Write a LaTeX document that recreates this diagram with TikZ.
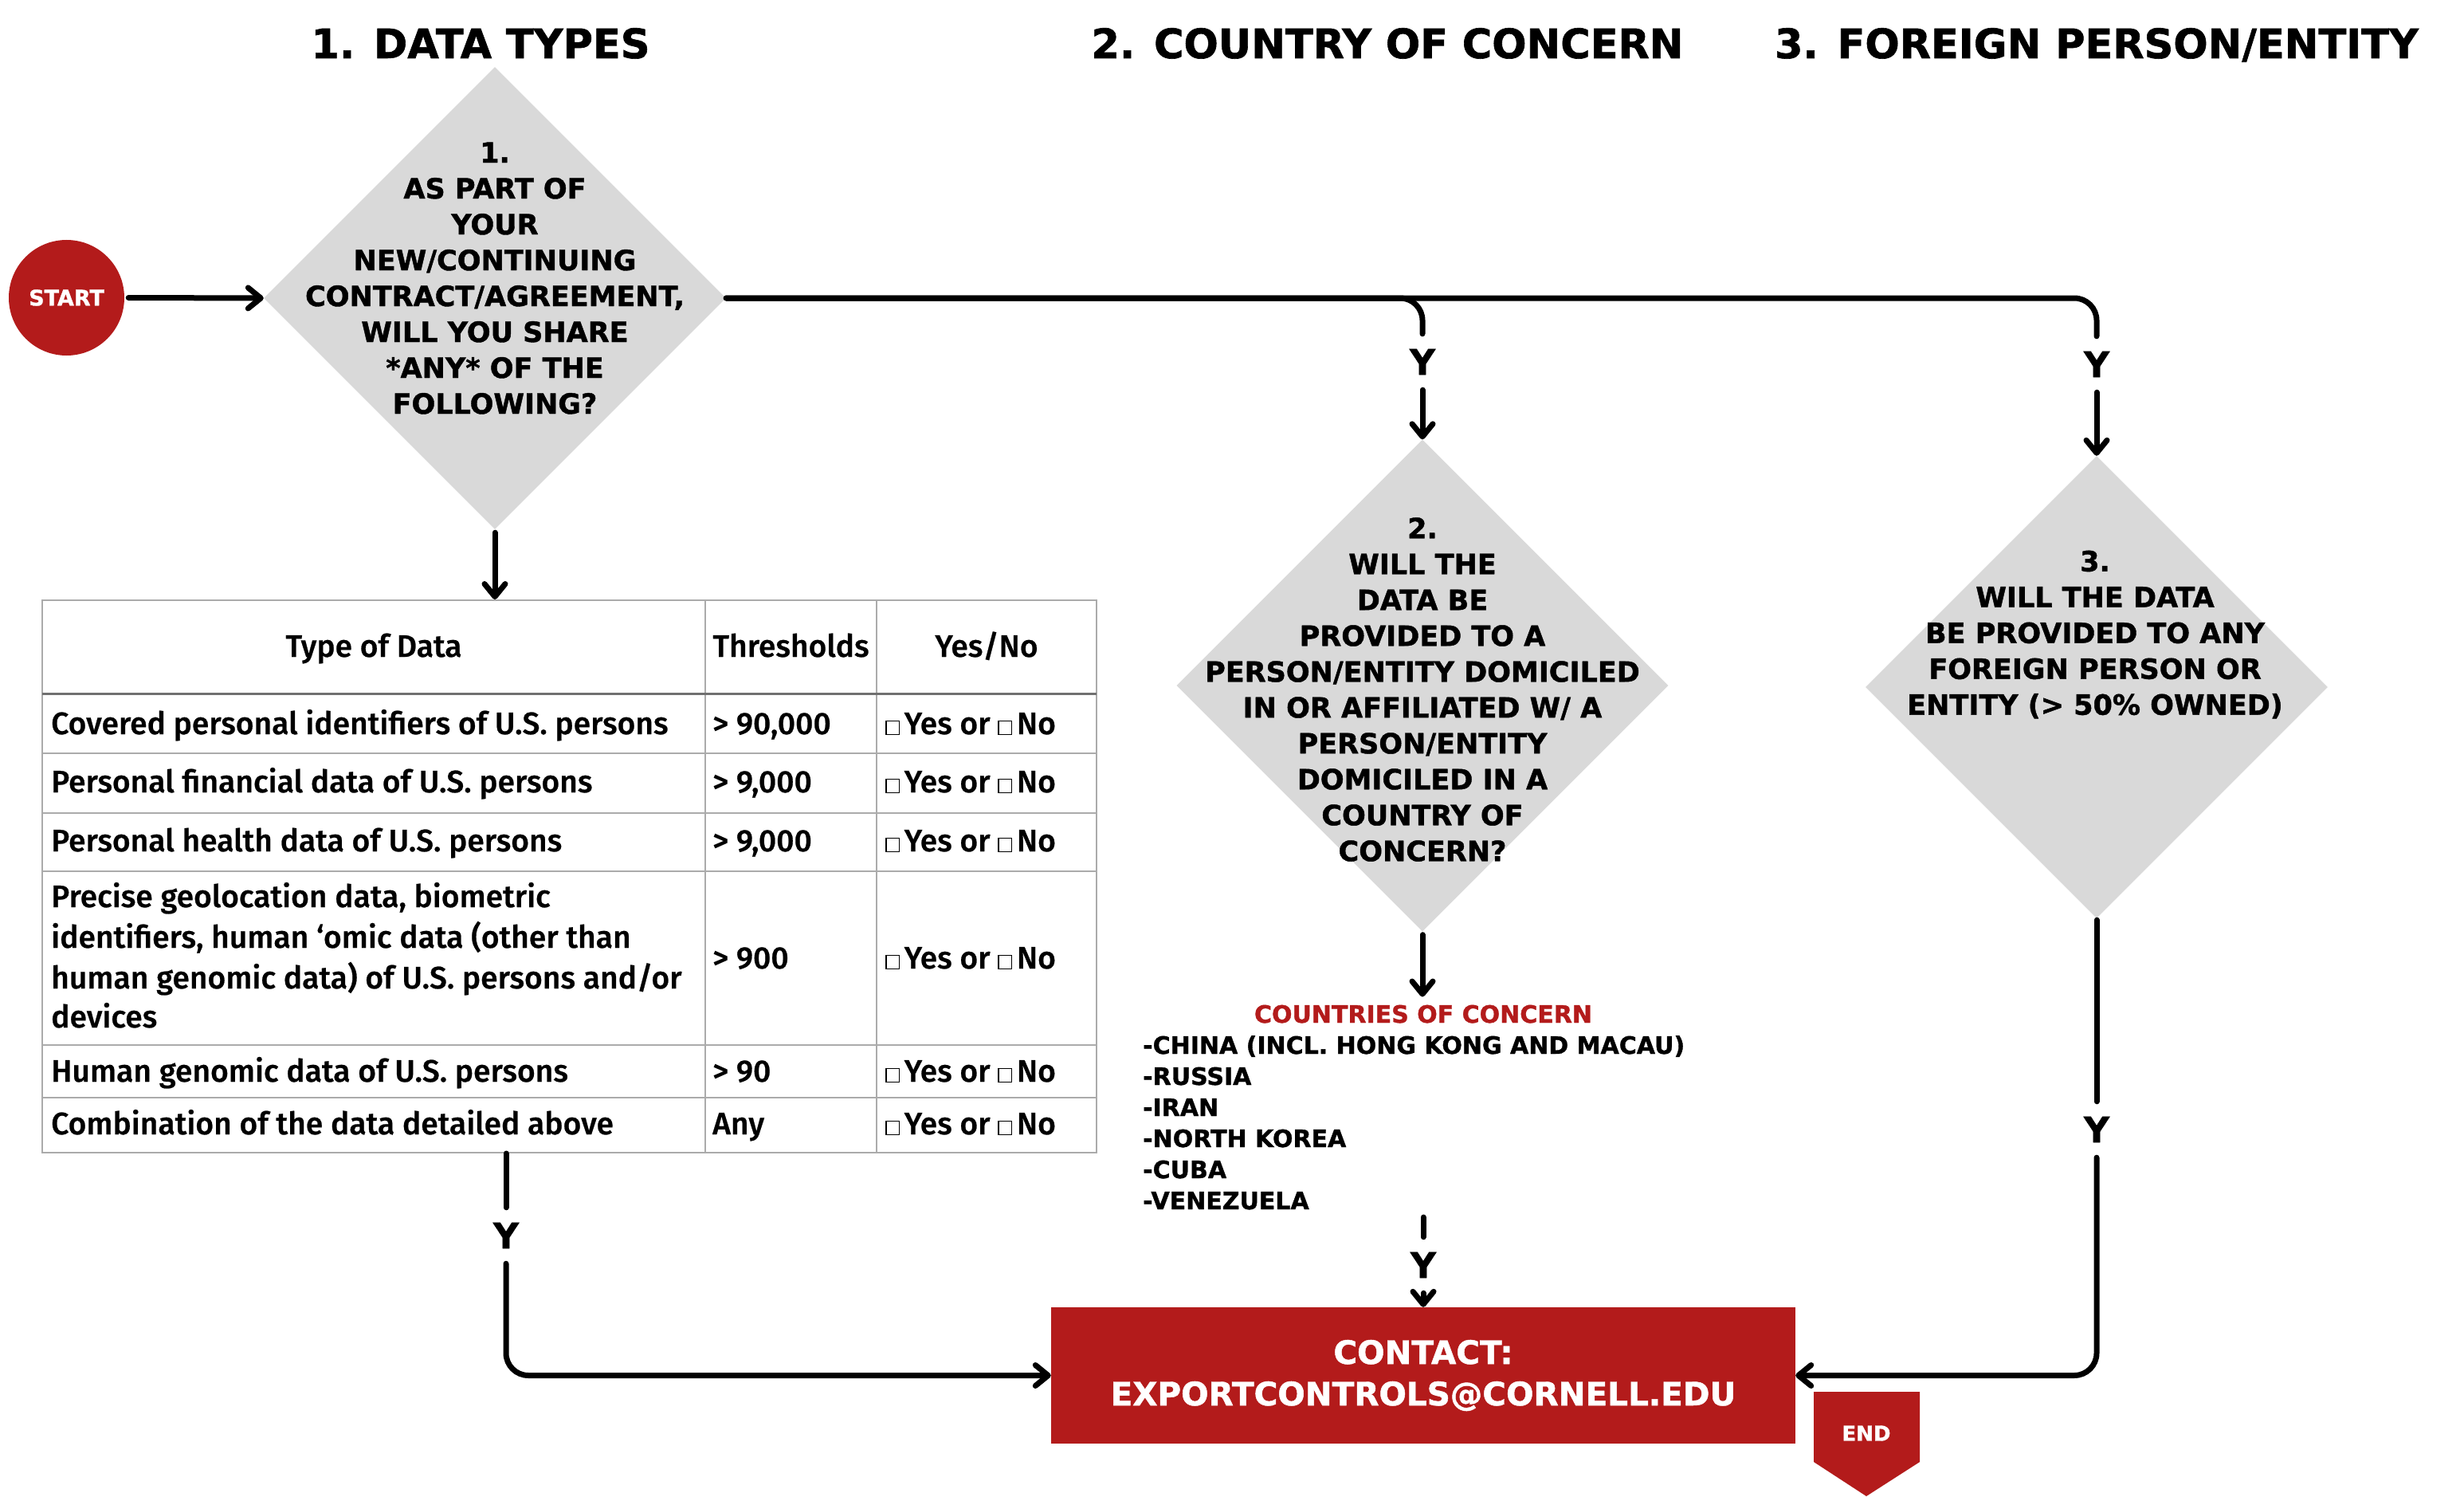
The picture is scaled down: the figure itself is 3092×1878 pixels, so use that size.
\documentclass[tikz,border=0pt]{standalone}
\usepackage{fontspec}
\usetikzlibrary{arrows.meta,shapes.geometric,calc}
\newfontfamily\djv{DejaVu Sans}[BoldFeatures={FakeBold=1.2}]
\newfontfamily\tabf{Fira Sans Medium}[FakeBold=0.6]
\definecolor{cred}{HTML}{B31B1B}
\definecolor{dgray}{HTML}{D9D9D9}
\definecolor{tgray}{HTML}{ABABAB}
\definecolor{hgray}{HTML}{707070}
\newcommand\fsz[2]{\fontsize{#1}{#2}\selectfont}
\newcommand\cbx{{\setlength{\fboxsep}{0pt}\setlength{\fboxrule}{1.3pt}\fbox{\rule{0pt}{16pt}\hspace{15pt}}}\hspace{6pt}}
\begin{document}
\begin{tikzpicture}[x=1pt,y=-1pt,
  conn/.style={line width=7pt, line cap=round, line join=round},
  arr/.style={conn, -{Straight Barb[length=16pt,width=26pt,round]}},
  ylab/.style={font=\djv\bfseries\fsz{44}{44}, inner sep=0pt, minimum height=70pt, minimum width=40pt},
  dia/.style={diamond, aspect=1, fill=dgray, inner sep=0pt},
  dtext/.style={font=\djv\bfseries\fsz{35}{45}, align=center, inner sep=0pt},
  title/.style={font=\djv\bfseries\fsz{51}{55}, anchor=base, inner sep=0pt},
  tabtxt/.style={font=\tabf\fsz{39}{50}, anchor=base west, inner sep=0pt},
  tabline/.style={draw=tgray, line width=2pt},
  cntry/.style={font=\djv\bfseries\fsz{30}{39}, anchor=base west, inner sep=0pt}]
\fill[white] (0,0) rectangle (3092,1878);
\useasboundingbox (0,0) rectangle (3092,1878);

% titles
\node[title] (t1) at (603,73) {1. DATA TYPES};
\node[title] (t2) at (1741,73) {2. COUNTRY OF CONCERN};
\node[title] (t3) at (2631,73) {3. FOREIGN PERSON/ENTITY};

% start
\node[circle, fill=cred, minimum size=145pt, inner sep=0pt, text=white,
      font=\djv\bfseries\fsz{27}{27}] (start) at (83.5,373.5) {START};

% diamonds
\node[dia, minimum width=580pt, minimum height=580pt] (d1) at (621,374) {};
\node[dtext] (d1t) at (621,349) {1.\\AS PART OF\\YOUR\\NEW/CONTINUING\\CONTRACT/AGREEMENT,\\WILL YOU SHARE\\*ANY* OF THE\\FOLLOWING?};

\node[dia, minimum width=617pt, minimum height=617pt] (d2) at (1785,860) {};
\node[dtext] (d2t) at (1785,865) {2.\\WILL THE\\DATA BE\\PROVIDED TO A\\PERSON/ENTITY DOMICILED\\IN OR AFFILIATED W/ A\\PERSON/ENTITY\\DOMICILED IN A\\COUNTRY OF\\CONCERN?};

\node[dia, minimum width=580pt, minimum height=580pt] (d3) at (2631,862) {};
\node[dtext] (d3t) at (2629,796) {3.\\WILL THE DATA\\BE PROVIDED TO ANY\\FOREIGN PERSON OR\\ENTITY (> 50\% OWNED)};

% table
\node[draw=tgray, line width=2pt, minimum width=1323pt, minimum height=693pt, inner sep=0pt] (tab) at (714.5,1099.5) {};
\draw[tabline] (885,753) -- (885,1446);
\draw[tabline] (1100,753) -- (1100,1446);
\draw[draw=hgray, line width=3pt] (53,870) -- (1376,870);
\foreach \yy in {945,1020,1093,1311,1377} \draw[tabline] (53,\yy) -- (1376,\yy);

\node[tabtxt, anchor=base] (h1) at (469,824) {Type of Data};
\node[tabtxt, anchor=base] (h2) at (992.5,824) {Thresholds};
\node[tabtxt, anchor=base] (h3) at (1238,824) {Yes/No};

\node[tabtxt] (r1a) at (64,921) {Covered personal identifiers of U.S. persons};
\node[tabtxt] (r1b) at (894,921) {> 90,000};
\node[tabtxt] (r1c) at (1111,921) {\cbx Yes or \cbx No};

\node[tabtxt] (r2a) at (64,994) {Personal financial data of U.S. persons};
\node[tabtxt] (r2b) at (894,994) {> 9,000};
\node[tabtxt] (r2c) at (1111,994) {\cbx Yes or \cbx No};

\node[tabtxt] (r3a) at (64,1068) {Personal health data of U.S. persons};
\node[tabtxt] (r3b) at (894,1068) {> 9,000};
\node[tabtxt] (r3c) at (1111,1068) {\cbx Yes or \cbx No};

\node[tabtxt] (r4a) at (64,1138) {Precise geolocation data, biometric};
\node[tabtxt] (r4b) at (64,1189) {identifiers, human ‘omic data (other than};
\node[tabtxt] (r4c) at (64,1240) {human genomic data) of U.S. persons and/or};
\node[tabtxt] (r4d) at (64,1289) {devices};
\node[tabtxt] (r4e) at (894,1215) {> 900};
\node[tabtxt] (r4f) at (1111,1215) {\cbx Yes or \cbx No};

\node[tabtxt] (r5a) at (64,1357) {Human genomic data of U.S. persons};
\node[tabtxt] (r5b) at (894,1357) {> 90};
\node[tabtxt] (r5c) at (1111,1357) {\cbx Yes or \cbx No};

\node[tabtxt] (r6a) at (64,1423) {Combination of the data detailed above};
\node[tabtxt] (r6b) at (894,1423) {Any};
\node[tabtxt] (r6c) at (1111,1423) {\cbx Yes or \cbx No};

% countries
\node[font=\djv\bfseries\fsz{30}{30}, text=cred, anchor=base, inner sep=0pt] (cch) at (1786,1283) {COUNTRIES OF CONCERN};
\node[cntry] (c1) at (1434,1322) {-CHINA (INCL. HONG KONG AND MACAU)};
\node[cntry] (c2) at (1434,1361) {-RUSSIA};
\node[cntry] (c3) at (1434,1400) {-IRAN};
\node[cntry] (c4) at (1434,1439) {-NORTH KOREA};
\node[cntry] (c5) at (1434,1478) {-CUBA};
\node[cntry] (c6) at (1434,1517) {-VENEZUELA};

% contact + end
\node[fill=cred, minimum width=934pt, minimum height=171pt, inner sep=0pt, text=white,
      font=\djv\bfseries\fsz{40.5}{52}, align=center] (contact) at (1786,1725.5) {CONTACT:\\EXPORTCONTROLS@CORNELL.EDU};
\fill[cred] (2276,1746) -- (2409,1746) -- (2409,1834) -- (2342,1877) -- (2276,1834) -- cycle;
\node[font=\djv\bfseries\fsz{26}{26}, text=white, inner sep=0pt] (endl) at (2342,1798) {END};

% Y labels
\node[ylab] (y2) at (1785,454) {Y};
\node[ylab] (y3) at (2631,457) {Y};
\node[ylab] (y3b) at (2631,1417) {Y};
\node[ylab] (yl) at (635,1550) {Y};
\node[ylab] (ym) at (1786,1587) {Y};
\coordinate (ms) at (1786,1527);

% connectors
\draw[arr, shorten <=5pt] (start.east) -- (d1.west);
\draw[arr, shorten <=4pt] (d1.south) -- (d1.south |- tab.north);
\draw[conn, rounded corners=28pt] (d1.east) -- (d2.north |- d1.east) -- (y2.north);
\draw[arr] (y2.south) -- (d2.north);
\draw[conn, rounded corners=28pt] (d1.east) -- (y3.north |- d1.east) -- (y3.north);
\draw[arr] (y3.south) -- (d3.north);
\draw[arr, shorten <=4pt, shorten >=10pt] (d2.south) -- (d2.south |- cch.north);
\draw[conn] (ms) -- (ym.north);
\draw[arr] (ym.south) -- (contact.north);
\draw[conn] (tab.south -| yl) -- (yl.north);
\draw[arr, rounded corners=28pt] (yl.south) -- (yl.south |- contact.west) -- (contact.west);
\draw[conn, shorten <=2pt] (d3.south) -- (y3b.north);
\draw[arr, rounded corners=28pt] (y3b.south) -- (y3b.south |- contact.east) -- (contact.east);
\end{tikzpicture}
\end{document}
